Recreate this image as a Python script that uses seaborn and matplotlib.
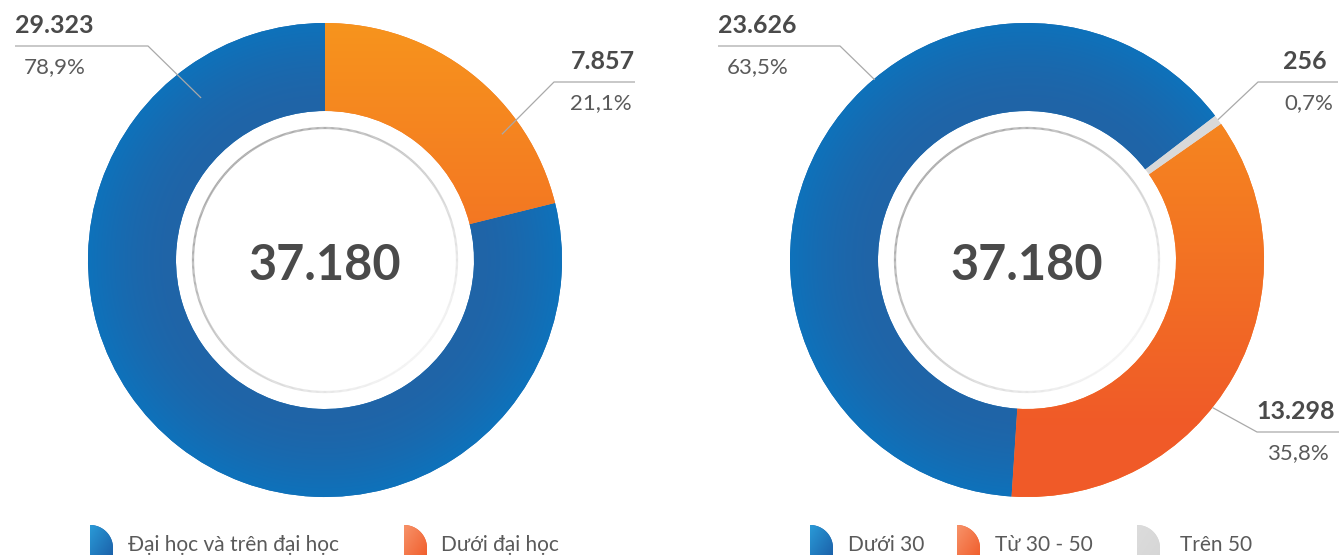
import numpy as np
import matplotlib
matplotlib.use("Agg")
import matplotlib.pyplot as plt
import seaborn as sns
from matplotlib.patches import Polygon
from matplotlib.collections import LineCollection
from matplotlib.colors import to_rgb

# ---- data ----
edu_labels = ["Đại học và trên đại học", "Dưới đại học"]
edu_values = [29323, 7857]
edu_shares = [78.9, 21.1]

age_labels = ["Dưới 30", "Từ 30 - 50", "Trên 50"]
age_values = [23626, 13298, 256]
age_shares = [63.5, 35.8, 0.7]

total_staff = 37180

# ---- style ----
sns.set_theme(style="white")
plt.rcParams["font.family"] = ["Lato", "DejaVu Sans"]

W, H = 1341, 555
R_OUT, RING = 237, 88
R_IN = R_OUT - RING
R_HALO = 132

TEXT = "#4a4a4a"
SOFT_TEXT = "#5a5a5a"
LEADER = "#a9a9a9"
BLUE_IN, BLUE_OUT = "#2064a7", "#0e72bb"
ORANGE_TOP, ORANGE_BOT = "#f7941d", "#f05a28"
GREY = "#d9d9d9"


def fmt_num(v):
    return f"{v:,}".replace(",", ".")


def fmt_pct(p):
    return f"{p:.1f}%".replace(".", ",")


def lerp(c0, c1, t):
    c0, c1 = np.array(to_rgb(c0)), np.array(to_rgb(c1))
    t = np.asarray(t)[..., None]
    return c0 * (1 - t) + c1 * t


def radial_fill(ax, wedge):
    n = 600
    g = np.linspace(-R_OUT, R_OUT, n)
    xx, yy = np.meshgrid(g, g)
    t = np.clip((np.hypot(xx, yy) - R_IN) / RING, 0, 1)
    img = lerp(BLUE_IN, BLUE_OUT, t ** 1.6)
    im = ax.imshow(img, extent=(-R_OUT, R_OUT, -R_OUT, R_OUT), origin="lower",
                   interpolation="bilinear", zorder=2)
    im.set_clip_path(wedge)


def vertical_fill(ax, wedge, top, bot):
    # warm gradient running down the ring, fully red near the bottom
    y0, y1 = -0.7 * R_OUT, R_OUT
    s = np.linspace(0, 1, 300)[:, None] * np.ones((1, 4))
    img = lerp(bot, top, s)
    im = ax.imshow(img, extent=(-R_OUT, R_OUT, y0, y1), origin="lower",
                   interpolation="bilinear", aspect="auto", zorder=2)
    im.set_clip_path(wedge)
    lower = np.tile(np.array(to_rgb(bot)), (2, 2, 1))
    im2 = ax.imshow(lower, extent=(-R_OUT, R_OUT, -R_OUT - 1, y0), origin="lower",
                    interpolation="nearest", aspect="auto", zorder=2)
    im2.set_clip_path(wedge)


def halo(ax):
    th = np.linspace(0, 2 * np.pi, 721)
    pts = np.column_stack([R_HALO * np.cos(th), R_HALO * np.sin(th)])
    segs = np.stack([pts[:-1], pts[1:]], axis=1)
    mid = (th[:-1] + th[1:]) / 2
    t = (1 + np.cos(mid - np.deg2rad(135))) / 2
    cols = lerp("#f3f3f3", "#a6a6a6", t ** 0.9)
    ax.add_collection(LineCollection(segs, colors=cols, linewidths=1.6, zorder=3))


def leader(ax, anchor, elbow, end_x):
    a, r = anchor
    ax_ = r * np.cos(np.deg2rad(a))
    ay_ = r * np.sin(np.deg2rad(a))
    ax.plot([ax_, elbow[0], end_x], [ay_, elbow[1], elbow[1]],
            color=LEADER, lw=0.9, zorder=4, solid_capstyle="butt")


def donut(ax, values, shares, colors, start, labels_layout, xlim):
    wedges, _ = ax.pie(values, radius=R_OUT, startangle=start, counterclock=True,
                       colors=colors, wedgeprops=dict(width=RING, linewidth=0))
    for w, c in zip(wedges, colors):
        if c == "blue":
            w.set_facecolor(lerp(BLUE_IN, BLUE_OUT, 0.6))
            radial_fill(ax, w)
        elif c == "orange":
            w.set_facecolor(lerp(ORANGE_TOP, ORANGE_BOT, 0.5))
            vertical_fill(ax, w, ORANGE_TOP, ORANGE_BOT)
        else:
            w.set_facecolor(GREY)
    halo(ax)
    ax.text(0, -20, fmt_num(total_staff), ha="center", va="baseline",
            fontsize=35, fontweight="bold", color=TEXT, zorder=5)

    for i, lay in enumerate(labels_layout):
        leader(ax, lay["anchor"], lay["elbow"], lay["end"])
        ly = lay["elbow"][1]
        if lay["side"] == "left":
            ax.text(lay["end"], ly + 13, fmt_num(values[i]), ha="left", va="baseline",
                    fontsize=18, fontweight="bold", color=TEXT)
            ax.text(lay["end"] + 9, ly - 27, fmt_pct(shares[i]), ha="left", va="baseline",
                    fontsize=16, fontweight="normal", color=SOFT_TEXT)
        else:
            ax.text(lay["end"] - lay["dv"], ly + 13, fmt_num(values[i]), ha="right",
                    va="baseline", fontsize=18, fontweight="bold", color=TEXT)
            ax.text(lay["end"] - lay["dp"], ly - 27, fmt_pct(shares[i]), ha="right",
                    va="baseline", fontsize=16, fontweight="normal", color=SOFT_TEXT)

    ax.set_xlim(*xlim)
    ax.set_ylim(-(H - 260), 260)
    ax.set_aspect("equal")
    ax.axis("off")


fig = plt.figure(figsize=(W / 100, H / 100), dpi=100)
fig.patch.set_facecolor("white")

# left donut: centre at x=325 px
ax1 = fig.add_axes([0, 0, 670 / W, 1])
donut(ax1, edu_values, edu_shares, ["blue", "orange"], 90,
      [dict(anchor=(127.4, 204), elbow=(-177, 214), end=-310, side="left"),
       dict(anchor=(35.4, 217), elbow=(229, 178), end=310, side="right", dv=0, dp=3)],
      (-325, 345))

# right donut: centre at x=1027 px
ax2 = fig.add_axes([670 / W, 0, 671 / W, 1])
donut(ax2, age_values, age_shares, ["blue", "orange", "grey"], 37.5,
      [dict(anchor=(130.2, 236), elbow=(-187, 214), end=-309, side="left"),
       dict(anchor=(-38.5, 237), elbow=(230, -172), end=312, side="right", dv=4, dp=10),
       dict(anchor=(36.3, 237), elbow=(231, 178), end=311, side="right", dv=11, dp=5)],
      (-357, 314))

# legend strip in pixel coordinates
axl = fig.add_axes([0, 0, 1, 1])
axl.set_xlim(0, W)
axl.set_ylim(H, 0)
axl.axis("off")
axl.patch.set_alpha(0)

swatch_grad = {"blue": ("#2a9bd8", "#1a5ca5"), "orange": ("#f7936a", "#f05a28"),
               "grey": ("#dcdcdc", "#d6d6d6")}


def swatch(x0, kind):
    th = np.linspace(np.pi / 2, 0, 40)
    arc = np.column_stack([x0 + 23 * np.cos(th), 548 - 23 * np.sin(th)])
    poly = np.vstack([[x0, 548], arc, [x0 + 23, 560], [x0, 560]])
    p = Polygon(poly, closed=True, facecolor=swatch_grad[kind][1], edgecolor="none")
    axl.add_patch(p)
    gx, gy = np.meshgrid(np.linspace(0, 1, 40), np.linspace(0, 1, 40))
    img = lerp(*swatch_grad[kind], np.clip((gx + gy) / 2, 0, 1))
    im = axl.imshow(img, extent=(x0, x0 + 24, 561, 524), interpolation="bilinear",
                    aspect="auto", zorder=2)
    im.set_clip_path(p)


legend_items = [(edu_labels[0], "blue", 90, 128), (edu_labels[1], "orange", 404, 441),
                (age_labels[0], "blue", 810, 848), (age_labels[1], "orange", 957, 995),
                (age_labels[2], "grey", 1137, 1180)]
for lab, kind, sx, tx in legend_items:
    swatch(sx, kind)
    axl.text(tx, 551, lab, ha="left", va="baseline", fontsize=15, color=SOFT_TEXT)

fig.savefig("out.png", dpi=100, facecolor="white")
